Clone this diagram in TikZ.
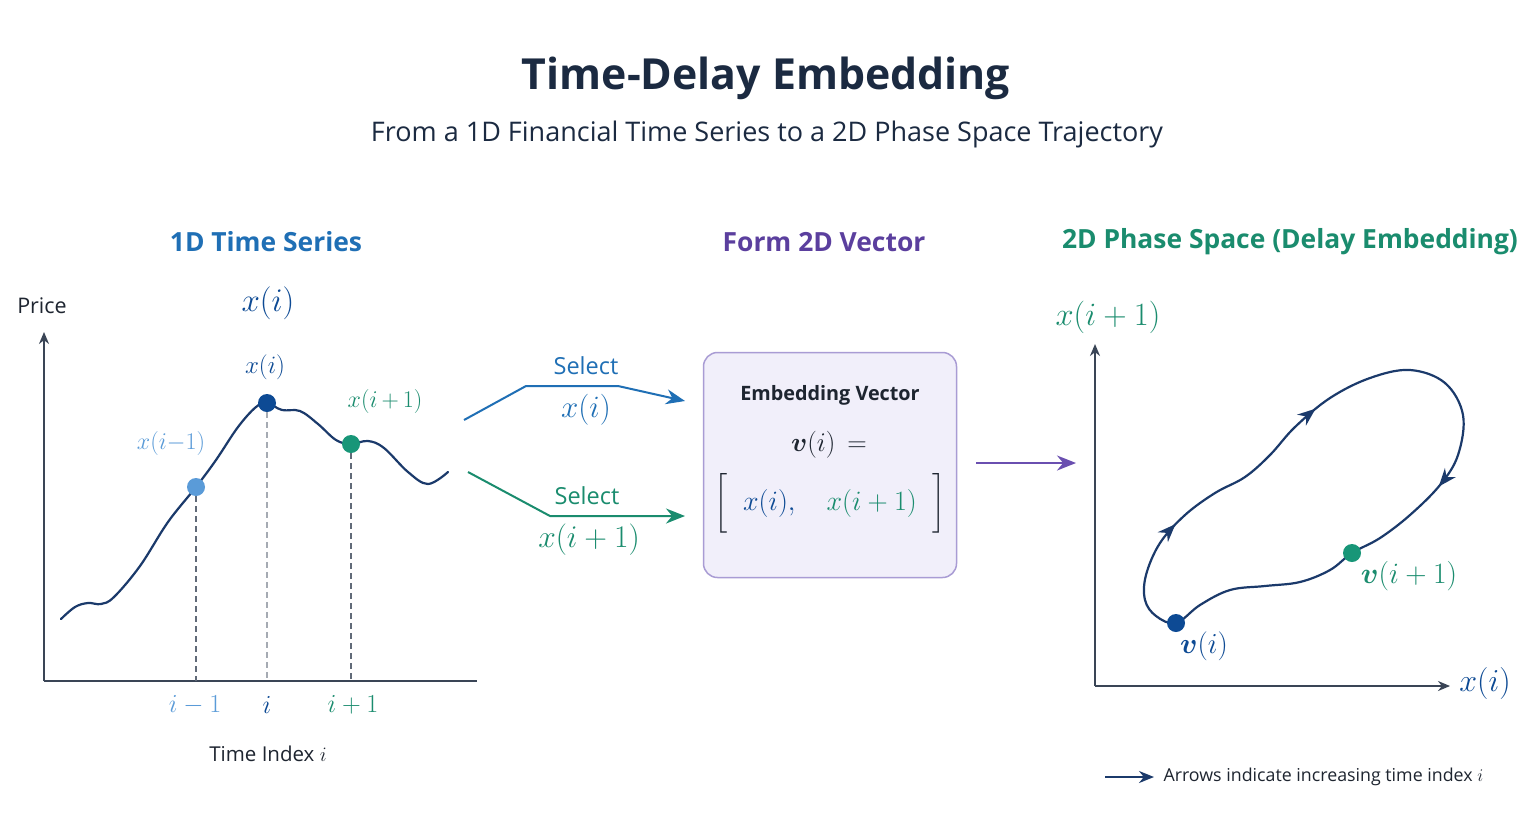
\RequirePackage{fix-cm}
\documentclass[tikz,border=0pt]{standalone}
\usepackage{amsmath,bm}
\usepackage{fontspec}
\setmainfont{Open Sans}
\usetikzlibrary{arrows.meta,decorations.markings,calc}
\definecolor{titlecol}{HTML}{1B2A41}
\definecolor{hblue}{HTML}{1F6FB5}
\definecolor{hpurple}{HTML}{5B3F9E}
\definecolor{hteal}{HTML}{1A8C6E}
\definecolor{navy}{HTML}{1B3A6B}
\definecolor{dblue}{HTML}{0D4A94}
\definecolor{lblue}{HTML}{5A9BD8}
\definecolor{tealdot}{HTML}{189678}
\definecolor{axiscol}{HTML}{3A4556}
\definecolor{boxfill}{HTML}{F1EFFA}
\definecolor{boxdraw}{HTML}{A99CD4}
\definecolor{parrow}{HTML}{6A4FB0}
\definecolor{txt}{HTML}{1E2530}
\tikzset{
  axisline/.style={draw=axiscol, line width=1.8pt},
  axisarrow/.style={axisline, -{Stealth[length=12pt,width=10pt]}},
  curve/.style={draw=navy, line width=2.2pt, line join=round, line cap=round},
  dotnode/.style={circle, inner sep=0pt, minimum size=18pt},
  vline/.style={draw=axiscol!80, line width=1.2pt, dash pattern=on 6pt off 4pt},
  vlinelight/.style={draw=axiscol!45, line width=1.2pt, dash pattern=on 6pt off 4pt},
  selarrow/.style={line width=2pt, line join=round, -{Stealth[length=19pt,width=15pt]}},
  headtext/.style={font=\fontsize{26.4}{31}\selectfont\bfseries},
  labtext/.style={font=\fontsize{20.5}{24}\selectfont, text=txt},
  flowmark/.style={postaction={decorate, decoration={markings,
      mark=at position 0.12 with {\arrow{Stealth[length=18pt,width=14pt]}},
      mark=at position 0.33 with {\arrow{Stealth[length=18pt,width=14pt]}},
      mark=at position 0.625 with {\arrow{Stealth[length=18pt,width=14pt]}}}}},
}
\begin{document}
\begin{tikzpicture}[x=1pt,y=-1pt]
\useasboundingbox[fill=white] (0,0) rectangle (1536,831);

% titles
\node[font=\fontsize{42.8}{50}\selectfont\bfseries, text=titlecol] (title) at (766,78) {Time-Delay Embedding};
\node[font=\fontsize{27}{32}\selectfont, text=titlecol] (subtitle) at (767,134) {From a 1D Financial Time Series to a 2D Phase Space Trajectory};

\node[headtext, text=hblue] (h1) at (266,242) {1D Time Series};
\node[headtext, text=hpurple] (h2) at (824,242) {Form 2D Vector};
\node[headtext, text=hteal] (h3) at (1290,242) {2D Phase Space (Delay Embedding)};

% ---------- left panel ----------
\coordinate (O1) at (44,681);
\coordinate (Y1) at (44,332);
\coordinate (X1) at (477,681);
\draw[axisarrow] (O1) -- (Y1);
\draw[axisline] (O1) -- (X1);
\node[font=\fontsize{21.5}{25}\selectfont, text=txt] (price) at (42,306) {Price};
\node[text=dblue, font=\fontsize{33}{37}\selectfont] (bigx) at (268,303) {$x(i)$};

\draw[curve] plot[smooth, tension=0.6] coordinates {
 (61,619) (75,607) (88,603) (101,604) (114,597) (140,566) (168,522) (196,487)
 (216,460) (238,427) (256,407) (267,403) (282,410) (300,411) (318,424)
 (336,440) (351,444) (368,441) (384,448) (408,472) (428,484) (448,472)};

\node[dotnode, fill=lblue] (d1) at (196,487) {};
\node[dotnode, fill=dblue] (d2) at (267,403) {};
\node[dotnode, fill=tealdot] (d3) at (351,444) {};

\draw[vline] (d1.south) -- (d1 |- O1);
\draw[vlinelight] (d2.south) -- (d2 |- O1);
\draw[vline] (d3.south) -- (d3 |- O1);

\node[text=lblue, font=\fontsize{24}{28}\selectfont] (l1) at (171,443) {$x(i{-}1)$};
\node[text=dblue, font=\fontsize{25}{29}\selectfont] (l2) at (265,367) {$x(i)$};
\node[text=hteal, font=\fontsize{24}{28}\selectfont] (l3) at (385,401) {$x(i\,{+}\,1)$};

\node[text=lblue, font=\fontsize{26}{30}\selectfont] (t1) at (195,705) {$i-1$};
\node[text=dblue, font=\fontsize{26}{30}\selectfont] (t2) at (267,705) {$i$};
\node[text=hteal, font=\fontsize{26}{30}\selectfont] (t3) at (353,705) {$i+1$};
\node[labtext] (tix) at (268,754) {Time Index $i$};

% ---------- middle ----------
\node[draw=boxdraw, fill=boxfill, line width=1.5pt, rounded corners=14pt,
      minimum width=253pt, minimum height=225pt] (box) at (830,465) {};
\node[font=\fontsize{19.8}{23}\selectfont\bfseries, text=txt] (bt) at (830,395) {Embedding Vector};
\node[font=\fontsize{27}{31}\selectfont, text=txt] (bv) at (829,445) {$\bm{v}(i)\,=$};
\node[font=\fontsize{28}{32}\selectfont, text=txt] (bm) at (830,503)
  {$\Big[\;\;\textcolor{dblue}{x(i),}\;\;\;\; \textcolor{hteal}{x(i+1)}\;\;\Big]$};

\coordinate (a0) at (464,420);
\coordinate (a1) at (526,386);
\coordinate (a2) at (618,386);
\coordinate (a3) at (685,401);
\draw[selarrow, draw=hblue] (a0) -- (a1) -- (a2) -- (a3);
\node[text=hblue, font=\fontsize{23.5}{27}\selectfont] (s1) at (586,366) {Select};
\node[text=hblue, font=\fontsize{31}{35}\selectfont] (s1x) at (586,410) {$x(i)$};

\coordinate (c0) at (468,472);
\coordinate (c1) at (550,516);
\coordinate (c3) at (685,516);
\draw[selarrow, draw=hteal] (c0) -- (c1) -- (c3);
\node[text=hteal, font=\fontsize{23.5}{27}\selectfont] (s2) at (587,496) {Select};
\node[text=hteal, font=\fontsize{31.5}{35}\selectfont] (s2x) at (589,540) {$x(i+1)$};

\coordinate (p0) at (976,463);
\coordinate (p1) at (1076,463);
\draw[selarrow, draw=parrow] (p0) -- (p1);

% ---------- right panel ----------
\coordinate (O2) at (1095,686);
\coordinate (Y2) at (1095,344);
\coordinate (X2) at (1450,686);
\draw[axisarrow] (O2) -- (Y2);
\draw[axisarrow] (O2) -- (X2);
\node[text=hteal, font=\fontsize{32.5}{36}\selectfont] (ry) at (1108,317) {$x(i+1)$};
\node[text=dblue, font=\fontsize{32}{36}\selectfont] (rx) at (1485,683) {$x(i)$};

\draw[curve, fill=none, flowmark, navy] plot[smooth cycle, tension=0.6] coordinates {
 (1176,623) (1156,616) (1145,600) (1146,575) (1160,543) (1185,515) (1215,493)
 (1245,477) (1270,455) (1295,427) (1330,398) (1370,378) (1410,370) (1445,383)
 (1463,415) (1458,455) (1440,485) (1410,515) (1380,538) (1352,553) (1330,570)
 (1300,582) (1265,586) (1230,590) (1200,605)};

\node[dotnode, fill=dblue] (v1) at (1176,623) {};
\node[dotnode, fill=tealdot] (v2) at (1352,553) {};
\node[text=dblue, font=\fontsize{29}{33}\selectfont] (v1l) at (1204,646) {$\bm{v}(i)$};
\node[text=hteal, font=\fontsize{29.5}{33}\selectfont] (v2l) at (1409,576) {$\bm{v}(i+1)$};

% legend
\coordinate (g0) at (1105,777);
\coordinate (g1) at (1154,777);
\draw[line width=2pt, draw=navy, -{Stealth[length=15pt,width=12pt]}] (g0) -- (g1);
\node[anchor=west, font=\fontsize{17.8}{21}\selectfont, text=txt] (legend) at (1160,777) {Arrows indicate increasing time index $i$};
\end{tikzpicture}
\end{document}
